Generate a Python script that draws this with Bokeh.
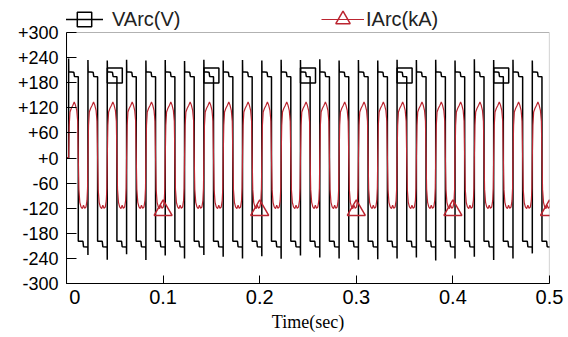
from bokeh.plotting import figure
from bokeh.models import Range1d, FixedTicker, Legend, LegendItem, BoxAnnotation
from bokeh.embed import file_html
from bokeh.resources import INLINE

# ---------------- data ----------------
period = 0.02          # s (50 Hz)
first_rise = 0.0022    # s, first arc re-ignition / upward current zero
n_cycles = 25

# one period of the arc voltage (phase 0..1 after re-ignition), V
v_phase = [0.008, 0.27, 0.30, 0.50, 0.50, 0.74, 0.77, 0.995]
v_level = [206, 205, 195, 194, -199, -199, -212, -213]
# re-ignition spikes per cycle, V
spike_pos = [238, 234, 233, 235, 233, 234, 232, 235, 233, 234, 233, 235, 234,
             236, 233, 234, 233, 235, 234, 235, 233, 236, 234, 235, 233]
spike_neg = [-232, -243, -230, -244, -233, -240, -232, -236, -240, -235, -241, -233,
             -238, -240, -243, -242, -240, -238, -245, -240, -236, -244, -240, -228, -235]

# one period of the arc current (phase 0..1 after upward zero), kA
i_phase = [0.0, 0.03, 0.07, 0.14, 0.22, 0.29, 0.35, 0.42, 0.47, 0.50,
           0.53, 0.58, 0.64, 0.71, 0.77, 0.83, 0.90, 0.95, 0.98]
i_value = [0, 78, 110, 119, 126, 134, 127, 114, 88, 0,
           -75, -106, -117, -121, -113, -120, -117, -102, -72]

# curve markers
sq_t = [0.05, 0.15, 0.25, 0.35, 0.45]
sq_v = [197, 197, 197, 197, 197]
tri_t = [0.1, 0.2, 0.3, 0.4, 0.5]
tri_i = [-125, -125, -125, -125, -125]

y_ticks = [-300, -240, -180, -120, -60, 0, 60, 120, 180, 240, 300]
y_tick_labels = ["-300", "-240", "-180", "-120", "-60", "+0", "+60", "+120", "+180", "+240", "+300"]
x_ticks = [0, 0.1, 0.2, 0.3, 0.4, 0.5]
x_tick_labels = ["\u00a0\u00a0\u00a00", "0.1", "0.2", "0.3", "0.4", "0.5"]

# ---------------- build the traces ----------------
t_v, y_v = [0.0, first_rise], [0.0, 0.0]
for k in range(n_cycles):
    t0 = first_rise + k * period
    t_v.append(t0); y_v.append(spike_pos[k])
    for ph, lv in zip(v_phase, v_level):
        t_v.append(t0 + ph * period); y_v.append(lv)
    t_v.append(t0 + period); y_v.append(spike_neg[k])

t_i, y_i = [0.0, first_rise], [0.0, 0.0]
for k in range(n_cycles):
    t0 = first_rise + k * period
    for ph, iv in zip(i_phase, i_value):
        t_i.append(t0 + ph * period); y_i.append(iv)

RED = "#bb2530"

Y_LO, Y_HI = y_ticks[0], y_ticks[-1]
FRAME_H = 251                      # px between -300 and +300
TOP_PAD = 32                       # px above +300 kept for the legend
y_top = Y_HI + TOP_PAD * (Y_HI - Y_LO) / FRAME_H

p = figure(frame_width=483, frame_height=FRAME_H + TOP_PAD,
           x_range=Range1d(x_ticks[0], x_ticks[-1]), y_range=Range1d(Y_LO, y_top),
           output_backend="svg", toolbar_location=None,
           min_border_left=66, min_border_right=19, min_border_top=0, min_border_bottom=46)
p.background_fill_color = "white"
p.border_fill_color = "white"
p.outline_line_color = None
p.xgrid.visible = False
p.ygrid.visible = False

p.add_layout(BoxAnnotation(left=x_ticks[0], right=x_ticks[-1], bottom=Y_LO, top=Y_HI,
                           fill_alpha=0, line_color="black", line_width=1.2))

rv = p.line(t_v, y_v, line_color="black", line_width=1.5)
ri = p.line(t_i, y_i, line_color=RED, line_width=1.2)
rsq = p.scatter(sq_t, sq_v, marker="square", size=15, fill_alpha=0,
                line_color="black", line_width=1.5)
rtri = p.scatter(tri_t, tri_i, marker="triangle", size=18, fill_alpha=0,
                 line_color=RED, line_width=1.5)

# axes
p.yaxis.ticker = FixedTicker(ticks=y_ticks)
p.yaxis.bounds = (Y_LO, Y_HI)
p.yaxis.major_label_overrides = {t: l for t, l in zip(y_ticks, y_tick_labels)}
p.yaxis.major_tick_in = 10
p.yaxis.major_tick_out = 0
p.yaxis.minor_tick_line_color = None
p.yaxis.major_label_standoff = 8
p.yaxis.major_label_text_font = "Liberation Sans"
p.yaxis.major_label_text_font_size = "18px"
p.yaxis.major_label_text_color = "black"
p.yaxis.axis_line_color = "black"
p.yaxis.major_tick_line_color = "black"

p.xaxis.ticker = FixedTicker(ticks=x_ticks)
p.xaxis.major_label_overrides = {t: l for t, l in zip(x_ticks, x_tick_labels)}
p.xaxis.major_tick_in = 8
p.xaxis.major_tick_out = 0
p.xaxis.minor_tick_line_color = None
p.xaxis.major_label_standoff = 2
p.xaxis.major_label_text_font = "Liberation Sans Narrow, Liberation Sans, sans-serif"
p.xaxis.major_label_text_font_size = "20px"
p.xaxis.major_label_text_color = "black"
p.xaxis.axis_line_color = "black"
p.xaxis.major_tick_line_color = "black"
p.xaxis.axis_label = "Time(sec)"
p.xaxis.axis_label_standoff = 1
p.xaxis.axis_label_text_font = "Liberation Serif"
p.xaxis.axis_label_text_font_size = "18px"
p.xaxis.axis_label_text_font_style = "normal"
p.xaxis.axis_label_text_color = "black"


def make_legend(label, rends, vx, gw, standoff):
    lg = Legend(items=[LegendItem(label=label, renderers=rends)],
                location=(vx, 246), orientation="horizontal",
                glyph_width=gw, glyph_height=36, label_standoff=standoff,
                padding=0, margin=0, spacing=0,
                background_fill_alpha=0, border_line_alpha=0,
                label_text_font="Liberation Sans", label_text_font_size="20px",
                label_text_color="#222222")
    p.add_layout(lg)


make_legend("VArc(V)", [rv, rsq], -1, 38, 9)
make_legend("IArc(kA)", [ri, rtri], 255, 43, 2)

open("out.html", "w").write(file_html(p, INLINE))
